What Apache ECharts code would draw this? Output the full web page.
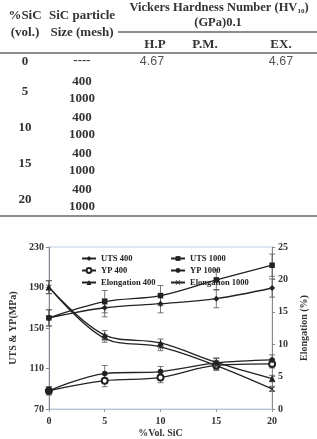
<!DOCTYPE html>
<html><head><meta charset="utf-8">
<script src="https://cdn.jsdelivr.net/npm/echarts@6/dist/echarts.min.js"></script>
<style>html,body{margin:0;padding:0;background:#fff}#c{width:317px;height:439px}</style>
</head><body><div id="c"></div>
<script>
// ---- Table data ----
const sicVol = ['0', '5', '10', '15', '20'];
const meshSizes = ['400', '1000'];
const hardnessHP = ['4.67'];
const hardnessPM = [''];
const hardnessEX = ['4.67'];
const methodHeaders = ['H.P', 'P.M.', 'EX.'];

// ---- Chart data ----
const volSiC = [0, 5, 10, 15, 20];
const uts400 = [160, 170, 174, 179, 189.5];
const uts1000 = [160, 176, 182, 197.5, 212];
const yp400 = [88, 98, 101, 113, 114.5];
const yp1000 = [88, 105, 107, 115.5, 118.5];
const elong400 = [18.8, 11.4, 10.2, 7.2, 4.7];
const elong1000 = [18.8, 10.9, 9.6, 6.7, 3.1];
const utsErr400 = [8, 9, 9, 9, 9];
const utsErr1000 = [8, 11, 10, 10, 11];
const ypErr400 = [4, 6, 5, 5, 4];
const ypErr1000 = [4, 8, 5, 5, 5];
const elongErr400 = [1, 0.7, 0.6, 0.6, 0.5];
const elongErr1000 = [1, 0.6, 0.6, 0.6, 0.4];

const SERIF = '"Liberation Serif", "Times New Roman", serif';
const INK = '#222';

// ---- Table graphics ----
const g = [];
function txt(t, x, y, opt) {
  g.push(Object.assign({type: 'text', silent: true, style: Object.assign({
    text: t, x: x, y: y, align: 'center', verticalAlign: 'middle',
    fontFamily: SERIF, fontWeight: 'bold', fontSize: 13, fill: '#333'
  }, opt || {})}));
}
function hline(x1, x2, y) {
  g.push({type: 'line', silent: true, shape: {x1: x1, y1: y, x2: x2, y2: y}, style: {stroke: '#666', lineWidth: 1.3}});
}
txt('%SiC', 25, 16);
txt('(vol.)', 25, 33);
txt('SiC particle', 82, 16);
txt('Size (mesh)', 82, 33);
g.push({type: 'text', silent: true, style: {
  text: 'Vickers Hardness Number (HV{s|10})', x: 219, y: 8, align: 'center', verticalAlign: 'middle',
  fontFamily: SERIF, fontWeight: 'bold', fontSize: 12.5, fill: '#333',
  rich: {s: {fontFamily: SERIF, fontWeight: 'bold', fontSize: 7, fill: '#333', padding: [7, 0, 0, 0]}}
}});
txt('(GPa)0.1', 218, 23, {fontSize: 12.5});
hline(118, 317, 32);
const colX = [155, 205, 281];
methodHeaders.forEach((h, i) => txt(h, colX[i], 45));
hline(0, 317, 53);
// row 0
txt(sicVol[0], 25, 62);
txt('----', 82, 61);
const sansOpt = {fontFamily: '"Liberation Sans", Arial, sans-serif', fontWeight: 'normal', fill: '#555', fontSize: 12.5};
txt(hardnessHP[0], 152, 62, sansOpt);
txt(hardnessPM[0], 205, 62, sansOpt);
txt(hardnessEX[0], 281, 62, sansOpt);
for (let i = 1; i < sicVol.length; i++) {
  const y0 = 82 + 36 * (i - 1);
  txt(sicVol[i], 25, y0 + 10);
  meshSizes.forEach((m, j) => txt(m, 82, y0 + 17 * j));
}
hline(0, 317, 216);

// ---- Error bar renderer ----
function errRender(params, api) {
  const x = api.value(0), lo = api.value(1), hi = api.value(2);
  const p1 = api.coord([x, lo]), p2 = api.coord([x, hi]);
  const w = 3;
  const st = {stroke: '#555', lineWidth: 0.8};
  return {type: 'group', children: [
    {type: 'line', shape: {x1: p1[0], y1: p1[1], x2: p2[0], y2: p2[1]}, style: st},
    {type: 'line', shape: {x1: p1[0] - w, y1: p1[1], x2: p1[0] + w, y2: p1[1]}, style: st},
    {type: 'line', shape: {x1: p2[0] - w, y1: p2[1], x2: p2[0] + w, y2: p2[1]}, style: st}
  ]};
}
function errSeries(vals, errs, axisIdx) {
  return {type: 'custom', yAxisIndex: axisIdx, silent: true, z: 1, renderItem: errRender,
    data: vals.map((v, i) => [volSiC[i], v - errs[i], v + errs[i]])};
}
const XSYM = 'path://M0,1L1,0L5,4L9,0L10,1L6,5L10,9L9,10L5,6L1,10L0,9L4,5Z';
function lineSeries(name, vals, sym, size, axisIdx) {
  return {type: 'line', name: name, yAxisIndex: axisIdx, smooth: 0.35, z: 3,
    data: vals.map((v, i) => [volSiC[i], v]), symbol: sym, symbolSize: size,
    lineStyle: {color: INK, width: 1.3}, itemStyle: {color: INK, borderColor: INK, borderWidth: sym === 'emptyCircle' ? 1.2 : 0},
    emphasis: {disabled: true}};
}

const axisLbl = {fontFamily: SERIF, fontWeight: 'bold', fontSize: 10, color: '#333'};
const legendText = {fontFamily: SERIF, fontWeight: 'bold', fontSize: 8.5, color: '#222'};

const chart = echarts.init(document.getElementById('c'), null, {renderer: 'canvas', width: 317, height: 439});
chart.setOption({
  animation: false,
  backgroundColor: '#fff',
  graphic: g,
  grid: {left: 33, right: 31, top: 247, bottom: 27, show: true, borderColor: '#c3d1e3', borderWidth: 1, backgroundColor: 'transparent'},
  legend: [
    {orient: 'vertical', left: 76, top: 249, itemWidth: 14, itemHeight: 6, itemGap: 3,
      data: ['UTS 400', 'YP 400', 'Elongation 400'], textStyle: legendText, selectedMode: false},
    {orient: 'vertical', left: 165, top: 249, itemWidth: 14, itemHeight: 6, itemGap: 3,
      data: ['UTS 1000', 'YP 1000', 'Elongation 1000'], textStyle: legendText, selectedMode: false}
  ],
  xAxis: {type: 'value', min: 0, max: 20, interval: 5, name: '%Vol. SiC', nameLocation: 'middle', nameGap: 19,
    nameTextStyle: {fontFamily: SERIF, fontWeight: 'bold', fontSize: 10, color: '#333'},
    axisLine: {lineStyle: {color: '#b8c4d2'}}, axisTick: {show: true, length: 3, lineStyle: {color: '#999'}},
    axisLabel: Object.assign({margin: 7}, axisLbl), splitLine: {show: false}},
  yAxis: [
    {type: 'value', min: 70, max: 230, interval: 40, name: 'UTS & YP(MPa)', nameLocation: 'middle', nameGap: 21, nameRotate: 90,
      nameTextStyle: {fontFamily: SERIF, fontWeight: 'bold', fontSize: 10, color: '#333'},
      axisLine: {show: true, lineStyle: {color: '#888'}}, axisTick: {show: true, length: 3, lineStyle: {color: '#888'}},
      axisLabel: Object.assign({margin: 5}, axisLbl), splitLine: {show: false}},
    {type: 'value', min: 0, max: 25, interval: 5, name: 'Elongation (%)', nameLocation: 'middle', nameGap: 21, nameRotate: 90,
      nameTextStyle: {fontFamily: SERIF, fontWeight: 'bold', fontSize: 10, color: '#333'},
      axisLine: {show: true, lineStyle: {color: '#888'}}, axisTick: {show: true, length: 3, inside: false, lineStyle: {color: '#888'}},
      axisLabel: Object.assign({margin: 6}, axisLbl), splitLine: {show: false}}
  ],
  series: [
    errSeries(uts400, utsErr400, 0), errSeries(uts1000, utsErr1000, 0),
    errSeries(yp400, ypErr400, 0), errSeries(yp1000, ypErr1000, 0),
    errSeries(elong400, elongErr400, 1), errSeries(elong1000, elongErr1000, 1),
    lineSeries('UTS 400', uts400, 'diamond', 6, 0),
    lineSeries('UTS 1000', uts1000, 'rect', 5.5, 0),
    lineSeries('YP 400', yp400, 'emptyCircle', 6, 0),
    lineSeries('YP 1000', yp1000, 'circle', 5.5, 0),
    lineSeries('Elongation 400', elong400, 'triangle', 6.5, 1),
    lineSeries('Elongation 1000', elong1000, XSYM, 5.5, 1)
  ]
});
</script></body></html>
